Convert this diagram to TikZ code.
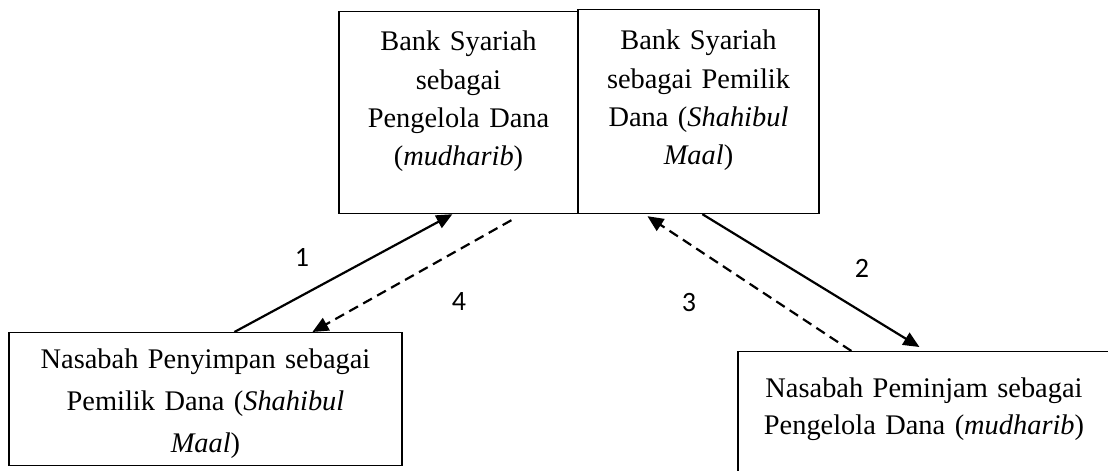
\documentclass[tikz,border=0pt]{standalone}
\usepackage{fontspec}
\setmainfont{Liberation Serif}
\newfontfamily\angka{Carlito}
\usetikzlibrary{arrows.meta,calc}

\begin{document}
\begin{tikzpicture}[x=0.5pt, y=-0.5pt,
  kotak/.style={draw, line width=0.6pt, anchor=north, align=center, inner sep=0pt},
  panah/.style={line width=1.1pt, -{Triangle[length=8pt,width=7pt]}},
  putus/.style={panah, dash pattern=on 5pt off 3pt},
  nomor/.style={font=\angka\fontsize{14pt}{16pt}\selectfont}]
\useasboundingbox (0,0) rectangle (1108,471);
\clip (0,0) rectangle (1108,471);

% Bank Syariah (dua peran)
\node[kotak, text width=119.5pt, text height=19.5pt, text depth=81.5pt,
  font=\fontsize{14.2pt}{19.2pt}\selectfont] (bankMudharib) at (458.5,11)
  {Bank Syariah\\ sebagai\\ Pengelola Dana\\ (\textit{mudharib})};
\node[kotak, text width=120.5pt, text height=20pt, text depth=82pt,
  font=\fontsize{14.2pt}{19.2pt}\selectfont] (bankPemilik) at (698.5,9)
  {Bank Syariah\\ sebagai Pemilik\\ Dana (\textit{Shahibul}\\ \textit{Maal})};

% Nasabah
\node[kotak, text width=196.5pt, text height=18pt, text depth=48.5pt,
  font=\fontsize{14.2pt}{21pt}\selectfont] (nasabahPenyimpan) at (205.5,332)
  {Nasabah Penyimpan sebagai\\ Pemilik Dana (\textit{Shahibul}\\ \textit{Maal})};
\node[kotak, text width=186pt, text height=23pt, text depth=43.5pt,
  font=\fontsize{14.2pt}{18.5pt}\selectfont] (nasabahPeminjam) at (924,351)
  {Nasabah Peminjam sebagai\\ Pengelola Dana (\textit{mudharib})};

% Alur dana
\draw[panah] ($(nasabahPenyimpan.north west)+(226,0)$) -- ($(bankMudharib.south west)+(114,0)$);
\draw[putus] ($(bankMudharib.south west)+(173,6)$) -- ($(nasabahPenyimpan.north west)+(304,0)$);
\draw[panah] ($(bankPemilik.south west)+(125,0)$) -- ($(nasabahPeminjam.north west)+(182,-4)$);
\draw[putus] ($(nasabahPeminjam.north west)+(114,0)$) -- ($(bankPemilik.south west)+(70,2)$);

% Nomor urut
\node[nomor] (no1) at (302,257) {1};
\node[nomor] (no2) at (862,268) {2};
\node[nomor] (no3) at (689,303) {3};
\node[nomor] (no4) at (459,302) {4};
\end{tikzpicture}
\end{document}
